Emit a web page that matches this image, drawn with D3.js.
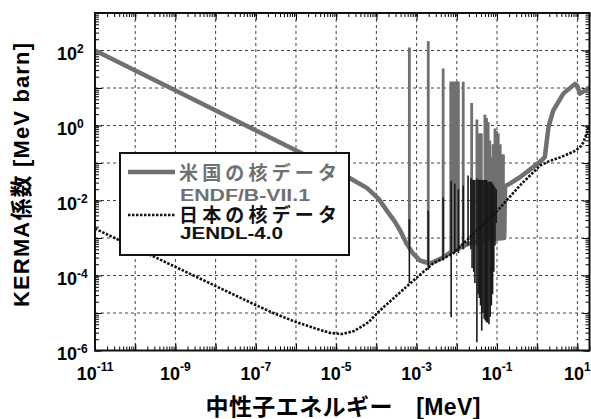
<!DOCTYPE html>
<html>
<head>
<meta charset="utf-8">
<script src="https://cdn.jsdelivr.net/npm/d3@7"></script>
<style>
  body { margin: 0; background: #fff; }
  text { font-family: "Liberation Sans", Arial, "Noto Sans CJK JP", sans-serif; font-weight: bold; }
</style>
</head>
<body>
<svg id="chart" width="591" height="419"></svg>
<script>
// all values are [log10 E (MeV), log10 KERMA (MeV barn)]
var endfCurve = [[-11, 2.0], [-5.15, -1.12], [-4.7, -1.38], [-4.23, -1.67], [-3.95, -1.95],
  [-3.74, -2.27], [-3.55, -2.55], [-3.41, -2.8], [-3.25, -3.15], [-3.09, -3.41], [-2.92, -3.6],
  [-2.67, -3.68], [-2.34, -3.52], [-2.09, -3.33], [-1.7, -3.15], [-1.3, -3.05], [-0.82, -3.0],
  [-0.8, -1.62], [-0.68, -1.55], [-0.43, -1.38], [-0.1, -1.11], [0.11, -0.93], [0.19, -0.84],
  [0.28, -0.04], [0.4, 0.4], [0.65, 0.85], [0.94, 1.11], [1.0, 1.05], [1.06, 0.85],
  [1.19, 0.93], [1.3, 1.02]];

// resonances: [logE, bottom, top]
var endfSpikes = [[-3.18, -3.2, 2.08], [-2.71, -3.65, 2.25], [-2.34, -3.52, 1.52],
  [-2.15, -3.4, 1.17], [-2.11, -3.4, 1.17], [-2.07, -3.4, 1.17], [-2.03, -3.35, 1.17],
  [-1.99, -3.35, 1.17], [-1.96, -3.35, 1.17], [-1.84, -3.3, 1.17], [-1.63, -3.2, 0.6],
  [-1.5, -3.2, 0.16], [-1.47, -3.2, -0.21], [-1.43, -3.2, -0.21], [-1.39, -3.2, -0.21],
  [-1.3, -3.1, 0.29], [-1.26, -3.1, 0.2], [-1.22, -3.1, 0.09], [-1.18, -3.1, -0.4],
  [-1.14, -3.05, -0.85], [-1.1, -3.05, -0.5], [-1.05, -3.05, -0.08], [-1.01, -3.0, -0.15],
  [-0.97, -3.0, -0.21], [-0.92, -3.0, -0.5], [-0.88, -3.0, -0.77], [-0.84, -3.0, -0.77]];

var jendlCurve = [[-11, -2.75], [-7, -4.79], [-6.5, -5.03], [-6, -5.24], [-5.5, -5.42],
  [-5.15, -5.53], [-4.85, -5.56], [-4.55, -5.48], [-4.2, -5.25], [-3.91, -4.93],
  [-3.41, -4.45], [-2.99, -4.05], [-2.59, -3.68], [-2.09, -3.41], [-1.5, -2.8],
  [-0.93, -2.2], [-0.43, -1.6], [0.07, -1.07], [0.3, -0.95], [0.57, -0.85], [0.9, -0.7],
  [1.06, -0.59], [1.15, -0.45], [1.3, 0.0]];

var jendlSpikes = [[-3.18, -4.2, -2.5], [-2.71, -3.85, -2.27], [-2.34, -3.6, -1.92],
  [-2.14, -5.11, -1.47], [-2.05, -3.4, -1.55], [-1.96, -3.4, -1.7], [-1.84, -3.3, -1.6],
  [-1.72, -3.2, -1.33], [-1.65, -3.3, -1.4], [-1.62, -3.8, -1.45], [-1.58, -3.9, -1.45],
  [-1.55, -4.2, -1.45], [-1.5, -5.78, -1.42], [-1.47, -4.5, -1.45], [-1.44, -4.6, -1.45],
  [-1.41, -4.8, -1.45], [-1.38, -5.47, -1.45], [-1.35, -5.0, -1.45], [-1.32, -5.15, -1.45],
  [-1.29, -5.2, -1.45], [-1.26, -5.25, -1.45], [-1.23, -5.25, -1.5], [-1.2, -5.3, -1.5],
  [-1.17, -5.1, -1.5], [-1.14, -4.8, -1.5], [-1.11, -4.5, -1.55], [-1.08, -3.9, -1.6],
  [-1.05, -3.2, -1.65], [-1.02, -2.6, -1.7]];

var xLabelExp = [-11, -9, -7, -5, -3, -1, 1];
var yLabelExp = [-6, -4, -2, 0, 2];

var legendNames = ["米国の核データ", "日本の核データ"];
var legendLibs = ["ENDF/B-VII.1", "JENDL-4.0"];

var gray = "#707070";

var svg = d3.select("#chart");
var x = d3.scaleLog().domain([1e-11, 20]).range([95, 589.5]);
var y = d3.scaleLog().domain([1e-6, 1e3]).range([350.5, 13]);
var p = function(v) { return Math.pow(10, v); };

var isPow = function(v) { var l = Math.log10(v); return Math.abs(l - Math.round(l)) < 1e-6; };
var xMinor = x.ticks(40), yMinor = y.ticks(40);
var xMajor = xMinor.filter(isPow), yMajor = yMinor.filter(isPow);

// grid
svg.append("g").selectAll("line").data(xMajor.filter(function(d) { return x(d) > 96; }))
  .enter().append("line")
  .attr("x1", function(d) { return x(d); }).attr("x2", function(d) { return x(d); })
  .attr("y1", 13).attr("y2", 350.5)
  .attr("stroke", "#444").attr("stroke-width", 1).attr("stroke-dasharray", "3,3");
svg.append("g").selectAll("line").data(yMajor.filter(function(d) { return y(d) > 14 && y(d) < 350; }))
  .enter().append("line")
  .attr("y1", function(d) { return y(d); }).attr("y2", function(d) { return y(d); })
  .attr("x1", 95).attr("x2", 589.5)
  .attr("stroke", "#444").attr("stroke-width", 1).attr("stroke-dasharray", "3,3");

// ticks on all four sides
function ticks(axis, vals, size, tr) {
  svg.append("g").attr("transform", tr)
    .call(axis.tickValues(vals).tickSize(size).tickFormat(""))
    .call(function(g) { g.select(".domain").remove(); });
}
ticks(d3.axisBottom(x), xMinor, -4, "translate(0,350.5)");
ticks(d3.axisBottom(x), xMajor, -7, "translate(0,350.5)");
ticks(d3.axisTop(x), xMinor, -4, "translate(0,13)");
ticks(d3.axisTop(x), xMajor, -7, "translate(0,13)");
ticks(d3.axisLeft(y), yMinor, -4, "translate(95,0)");
ticks(d3.axisLeft(y), yMajor, -7, "translate(95,0)");
ticks(d3.axisRight(y), yMinor, -4, "translate(589.5,0)");
ticks(d3.axisRight(y), yMajor, -7, "translate(589.5,0)");

// curves
var line = d3.line().x(function(d) { return x(p(d[0])); }).y(function(d) { return y(p(d[1])); });

svg.append("g").selectAll("line").data(endfSpikes).enter().append("line")
  .attr("x1", function(d) { return x(p(d[0])); }).attr("x2", function(d) { return x(p(d[0])); })
  .attr("y1", function(d) { return y(p(d[1])); }).attr("y2", function(d) { return y(p(d[2])); })
  .attr("stroke", gray).attr("stroke-width", 2.8);

svg.append("path").datum(endfCurve).attr("d", line)
  .attr("fill", "none").attr("stroke", gray).attr("stroke-width", 4.5)
  .attr("stroke-linejoin", "round");

svg.append("g").selectAll("line").data(jendlSpikes).enter().append("line")
  .attr("x1", function(d) { return x(p(d[0])); }).attr("x2", function(d) { return x(p(d[0])); })
  .attr("y1", function(d) { return y(p(d[1])); }).attr("y2", function(d) { return y(p(d[2])); })
  .attr("stroke", "#1a1a1a").attr("stroke-width", 1.6);

svg.append("path").datum(jendlCurve).attr("d", line)
  .attr("fill", "none").attr("stroke", "#111").attr("stroke-width", 2.6)
  .attr("stroke-dasharray", "2.5,1.5");

// frame
svg.append("rect").attr("x", 95).attr("y", 13).attr("width", 494.5).attr("height", 337.5)
  .attr("fill", "none").attr("stroke", "#111").attr("stroke-width", 2);

// tick labels
svg.append("g").selectAll("text").data(xLabelExp).enter().append("text")
  .attr("x", function(d) { return x(p(d)); }).attr("y", 380)
  .attr("text-anchor", "middle").attr("font-size", 18)
  .each(function(d) {
    var t = d3.select(this);
    t.append("tspan").text("10");
    t.append("tspan").attr("dy", -9).attr("font-size", 12).text(d);
  });
svg.append("g").selectAll("text").data(yLabelExp).enter().append("text")
  .attr("x", 57).attr("y", function(d) { return y(p(d)) + 9.5; })
  .attr("font-size", 18)
  .each(function(d) {
    var t = d3.select(this);
    t.append("tspan").text("10");
    t.append("tspan").attr("dy", -7).attr("font-size", 12).text(d);
  });

// axis titles
svg.append("text").attr("x", 343).attr("y", 415).attr("text-anchor", "middle")
  .attr("font-size", 23).attr("textLength", 275).attr("lengthAdjust", "spacing")
  .text("中性子エネルギー　[MeV]");
svg.append("text").attr("transform", "translate(29,175) rotate(-90)")
  .attr("text-anchor", "middle").attr("font-size", 22)
  .attr("textLength", 264).attr("lengthAdjust", "spacing")
  .text("KERMA係数 [MeV barn]");

// legend
var lg = svg.append("g");
lg.append("rect").attr("x", 120).attr("y", 153).attr("width", 229).attr("height", 102)
  .attr("fill", "#fff").attr("stroke", "#111").attr("stroke-width", 2);
lg.append("line").attr("x1", 128).attr("x2", 175).attr("y1", 172).attr("y2", 172)
  .attr("stroke", gray).attr("stroke-width", 4.5);
lg.append("line").attr("x1", 128).attr("x2", 175).attr("y1", 215).attr("y2", 215)
  .attr("stroke", "#111").attr("stroke-width", 2.4).attr("stroke-dasharray", "2.5,1.5");
var nameY = [180, 221.5], libY = [200.5, 239], cols = [gray, "#111"];
var libLen = [130, 103], libSize = [16, 16];
legendNames.forEach(function(n, i) {
  lg.append("text").attr("x", 179).attr("y", nameY[i]).attr("font-size", 19)
    .attr("textLength", 158).attr("lengthAdjust", "spacing").attr("fill", cols[i]).text(n);
  lg.append("text").attr("x", 180).attr("y", libY[i]).attr("font-size", libSize[i])
    .attr("font-weight", i === 0 ? "normal" : "bold")
    .attr("textLength", libLen[i]).attr("lengthAdjust", "spacingAndGlyphs")
    .attr("fill", cols[i]).text(legendLibs[i]);
});
</script>
</body>
</html>
